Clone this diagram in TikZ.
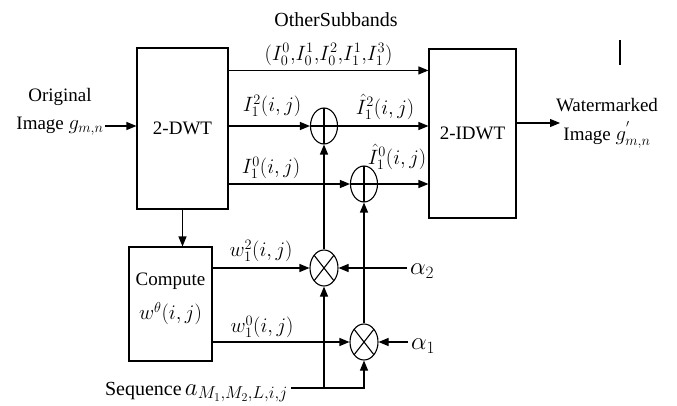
\documentclass[tikz,border=0pt]{standalone}
\usepackage{fontspec}
\setmainfont{Liberation Serif}
\usepackage{tikz}
\usetikzlibrary{arrows.meta,positioning,calc,shapes.geometric}
\tikzset{
  wm/box/.style={
    draw, line width=1.1pt, inner sep=0pt, align=center
  },
  wm/sum/.style={
    draw, ellipse, line width=1.1pt, inner sep=0pt, minimum width=27pt, minimum height=36pt,
    path picture={\draw[line width=1.1pt]
      (path picture bounding box.north) -- (path picture bounding box.south)
      (path picture bounding box.west) -- (path picture bounding box.east);}
  },
  wm/mul/.style={
    draw, ellipse, line width=1.1pt, inner sep=0pt, minimum width=28pt, minimum height=36pt,
    path picture={\draw[line width=1.1pt]
      (path picture bounding box.north west) -- (path picture bounding box.south east)
      (path picture bounding box.south west) -- (path picture bounding box.north east);}
  },
  wm/lbl/.style={inner sep=1pt, align=center},
  wm/math/.style={inner sep=1pt, font=\fontsize{21}{24}\selectfont},
  wm/line/.style={line width=1.1pt},
  wm/arr/.style={-{Triangle[length=10pt,width=8pt]}, line width=1.1pt}
}

\begin{document}
\begin{tikzpicture}[x=1pt, y=-1pt, font=\fontsize{19}{22}\selectfont]
  \useasboundingbox (0,0) rectangle (677,406);

  \node[wm/box, minimum width=91pt, minimum height=161pt] (dwt) at (182.5,128.5) {2-DWT};
  \node[wm/box, minimum width=87pt, minimum height=169pt] (idwt) at (472.5,133.5) {2-IDWT};
  \node[wm/box, minimum width=83pt, minimum height=114pt] (comp) at (170.5,304) {};
  \node[wm/lbl] (cmpt) at (170.5,299)
    {Compute\\[12pt]{\fontsize{22}{24}\selectfont$w^{\theta}(i,j)$}};

  \node[wm/sum] (add1) at (324,126) {};
  \node[wm/sum] (add2) at (364,184) {};
  \node[wm/mul] (mul1) at (324,268) {};
  \node[wm/mul] (mul2) at (364,342) {};

  \node[wm/lbl, font=\fontsize{20}{22}\selectfont] (oth) at (336,20) {OtherSubbands};
  \node[wm/lbl] (orig) at (60,112) {Original\\[6pt]Image {\fontsize{22}{22}\selectfont$g_{m,n}$}};
  \node[wm/lbl] (wmk) at (607,123) {Watermarked\\[7pt]Image {\fontsize{22}{22}\selectfont$g^{'}_{m,n}$}};
  \node[wm/math] (l12) at (272,106) {$I_1^2(i,j)$};
  \node[wm/math] (h12) at (385,107) {$\hat{I}_1^2(i,j)$};
  \node[wm/math] (l10) at (271,168) {$I_1^0(i,j)$};
  \node[wm/math] (h10) at (397,157) {$\hat{I}_1^0(i,j)$};
  \node[wm/math] (w12) at (261,251) {$w_1^2(i,j)$};
  \node[wm/math] (w10) at (262,327) {$w_1^0(i,j)$};
  \node[wm/math, inner sep=3pt, anchor=west, font=\fontsize{24}{24}\selectfont] (a2) at (407,271) {$\alpha_2$};
  \node[wm/math, inner sep=3pt, anchor=west, font=\fontsize{24}{24}\selectfont] (a1) at (408,346) {$\alpha_1$};
  \node[wm/lbl, anchor=east, font=\fontsize{20}{22}\selectfont] (seq) at (289,392)
    {Sequence\,{\fontsize{29}{29}\selectfont$a$}{\fontsize{23}{23}\selectfont$_{M_1,M_2,L,i,j}$}};

  \coordinate (inpt) at (105,126);
  \coordinate (outpt) at (560,123);
  \coordinate (sqs) at (291,388);

  \draw[wm/arr] (inpt) -- (inpt -| dwt.west);
  \draw[wm/arr] ([yshift=-23pt]dwt.north east) -- ([yshift=-23pt]dwt.north east -| idwt.west)
    node[midway, above=1pt, font=\fontsize{22}{24}\selectfont] {$(I_0^0{,}I_0^1{,}I_0^2{,}I_1^1{,}I_1^3)$};
  \draw[wm/arr] (dwt.east |- add1) -- (add1);
  \draw[wm/arr] (add1) -- (add1 -| idwt.west);
  \draw[wm/arr] (dwt.east |- add2) -- (add2);
  \draw[wm/arr] (add2) -- (add2 -| idwt.west);
  \draw[wm/arr] (outpt -| idwt.east) -- (outpt);
  \draw[wm/arr] (dwt.south) -- (dwt.south |- comp.north);
  \draw[wm/arr] (comp.east |- mul1) -- (mul1);
  \draw[wm/arr] (comp.east |- mul2) -- (mul2);
  \draw[wm/arr] (a2.west |- mul1) -- (mul1);
  \draw[wm/arr] (a1.west |- mul2) -- (mul2);
  \draw[wm/arr] (mul1) -- (add1);
  \draw[wm/arr] (mul2) -- (add2);
  \draw[wm/arr] (sqs) -| (mul2.south);
  \draw[wm/arr] (sqs -| mul1) -- (mul1.south);
  \draw[wm/line] (620,40) -- (620,65);
\end{tikzpicture}
\end{document}
